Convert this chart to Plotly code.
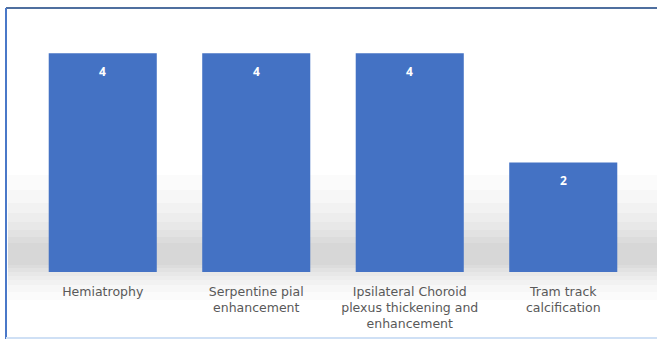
import plotly.graph_objects as go

categories = ["Hemiatrophy", "Serpentine pial<br>enhancement",
              "Ipsilateral Choroid<br>plexus thickening and<br>enhancement",
              "Tram track<br>calcification"]
values = [4, 4, 4, 2]

W, H = 657, 341
ML, MR, MT, MB = 26, 17, 40, 69
ph = H - MT - MB


def py(px):
    return (H - MB - px) / ph


def pxx(px):
    return (px - ML) / (W - ML - MR)


fig = go.Figure()
fig.add_trace(go.Bar(
    x=categories, y=values,
    marker=dict(color="#4472C4", line=dict(width=0)),
    hoverinfo="skip",
))

annotations = [dict(x=c, y=v, xref="x", yref="y", text=f"<b>{v}</b>",
                    showarrow=False, yshift=-18,
                    font=dict(color="white", size=12, family="Open Sans"))
               for c, v in zip(categories, values)]

shapes = []
# soft gray band in background (gradient approximation)
steps = [(175, 300, 0.018), (190, 292, 0.02), (203, 285, 0.022), (213, 280, 0.025),
         (222, 276, 0.028), (230, 272, 0.03), (237, 268, 0.03), (243, 265, 0.03)]
for y0, y1, a in steps:
    shapes.append(dict(type="rect", xref="paper", yref="paper",
                       x0=pxx(8), x1=1.03, y0=py(y1), y1=py(y0),
                       fillcolor=f"rgba(60,60,60,{a})", line=dict(width=0),
                       layer="below"))
# frame
shapes.append(dict(type="line", xref="paper", yref="paper",
                   x0=pxx(6), x1=pxx(700), y0=py(8), y1=py(8),
                   line=dict(color="#4f6f9f", width=2)))
shapes.append(dict(type="line", xref="paper", yref="paper",
                   x0=pxx(6), x1=pxx(6), y0=py(8), y1=py(339),
                   line=dict(color="#4a78c8", width=2)))
shapes.append(dict(type="line", xref="paper", yref="paper",
                   x0=pxx(6), x1=pxx(700), y0=py(338), y1=py(338),
                   line=dict(color="#cfe0f5", width=2)))

fig.update_layout(
    width=W, height=H,
    margin=dict(l=ML, r=MR, t=MT, b=MB),
    paper_bgcolor="white", plot_bgcolor="rgba(0,0,0,0)",
    bargap=0.296, showlegend=False,
    shapes=shapes, annotations=annotations,
    xaxis=dict(showgrid=False, zeroline=False, showline=False, ticks="",
               ticklabelstandoff=10, automargin=False,
               tickfont=dict(family="DejaVu Sans", size=12.5, color="#595959"),
               fixedrange=True),
    yaxis=dict(range=[0, 4.24], visible=False, showgrid=False, fixedrange=True,
               automargin=False),
)

fig.write_html("out.html", config={"displayModeBar": False})
